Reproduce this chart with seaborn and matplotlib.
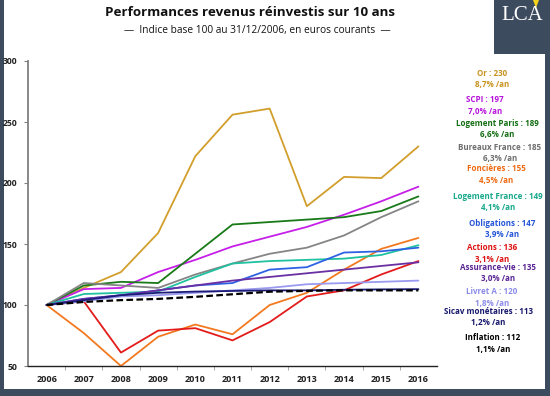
import matplotlib
matplotlib.use("Agg")
import matplotlib.pyplot as plt
import matplotlib.patches as mpatches
import seaborn as sns
import pandas as pd

# donnees
years = [2006, 2007, 2008, 2009, 2010, 2011, 2012, 2013, 2014, 2015, 2016]

or_vals = [100, 114, 127, 159, 222, 256, 261, 181, 205, 204, 230]
scpi = [100, 113, 114, 127, 137, 148, 156, 164, 174, 185, 197]
logement_paris = [100, 116, 119, 118, 142, 166, 168, 170, 172, 177, 189]
bureaux = [100, 118, 116, 114, 125, 134, 142, 147, 157, 172, 185]
foncieres = [100, 77, 50, 74, 84, 76, 100, 110, 129, 146, 155]
logement_france = [100, 109, 110, 111, 123, 134, 136, 137, 138, 141, 149]
obligations = [100, 105, 108, 112, 116, 118, 129, 131, 143, 144, 147]
actions = [100, 103, 61, 79, 81, 71, 86, 107, 112, 125, 136]
assurance_vie = [100, 105, 108, 112, 116, 120, 123, 126, 129, 132, 135]
livret_a = [100, 103, 107, 108, 110, 112, 114, 117, 118, 119, 120]
sicav = [100, 104, 108, 110, 111, 111.5, 112, 112, 112.5, 112.8, 113]
inflation = [100, 102.5, 104, 105, 106.7, 108.8, 110.9, 111.6, 112, 112, 112]

series = [
    ("Or", or_vals, "#D29E2C"),
    ("SCPI", scpi, "#C61FE8"),
    ("Logement Paris", logement_paris, "#187A18"),
    ("Bureaux France", bureaux, "#858585"),
    ("Foncières", foncieres, "#F2791F"),
    ("Logement France", logement_france, "#1FC1A0"),
    ("Obligations", obligations, "#2F62E3"),
    ("Actions", actions, "#E31B1B"),
    ("Assurance-vie", assurance_vie, "#6A2FA3"),
    ("Livret A", livret_a, "#9A9AF0"),
    ("Sicav monétaires", sicav, "#1C1C78"),
    ("Inflation", inflation, "#000000"),
]

# etiquettes a droite
labels = [
    ("Or : 230", "8,7% /an", "#C8921E"),
    ("SCPI : 197", "7,0% /an", "#B815DC"),
    ("Logement Paris : 189", "6,6% /an", "#146E14"),
    ("Bureaux France : 185", "6,3% /an", "#6E6E6E"),
    ("Foncières : 155", "4,5% /an", "#EE6A12"),
    ("Logement France : 149", "4,1% /an", "#17A88A"),
    ("Obligations : 147", "3,9% /an", "#2656D8"),
    ("Actions : 136", "3,1% /an", "#DD1212"),
    ("Assurance-vie : 135", "3,0% /an", "#5A2494"),
    ("Livret A : 120", "1,8% /an", "#8C8CE8"),
    ("Sicav monétaires : 113", "1,2% /an", "#18186C"),
    ("Inflation : 112", "1,1% /an", "#000000"),
]
label_x = [492, 485, 497, 500, 496, 498, 502, 492, 498, 492, 488, 493]
label_y = [73, 100, 123, 147, 169, 196, 223, 248, 267, 292, 311, 338]

sns.set_style("white")
plt.rcParams['font.family'] = ['Open Sans', 'DejaVu Sans']

W, H = 550, 396
fig = plt.figure(figsize=(5.5, 3.96), dpi=100)
fig.patch.set_facecolor("#3D4B5F")

# fond blanc
fig.patches.append(mpatches.Rectangle((4 / W, 1 - 389 / H), (545 - 4) / W, 389 / H,
                                      transform=fig.transFigure, facecolor="white",
                                      edgecolor="none", zorder=-10))
# logo
fig.patches.append(mpatches.Rectangle((494 / W, 1 - 54 / H), (W - 494) / W, 54 / H,
                                      transform=fig.transFigure, facecolor="#3D4B5F",
                                      edgecolor="none", zorder=-9))
fig.text(522 / W, 1 - 15 / H, "LCA", color="white", fontsize=15,
         family="Liberation Serif", ha="center", va="center")
fig.patches.append(mpatches.Polygon([(533 / W, 1), (539 / W, 1), (536 / W, 1 - 8 / H)],
                                    closed=True, transform=fig.transFigure,
                                    facecolor="#F2D21A", edgecolor="none", zorder=-8))

ax = fig.add_axes([28 / W, 30 / H, 409 / W, 305 / H])
ax.set_facecolor("none")

df = pd.DataFrame({"year": years})
for name, vals, col in series:
    df[name] = vals

for name, vals, col in series:
    if name == "Inflation":
        sns.lineplot(data=df, x="year", y=name, color=col, lw=1.6,
                     linestyle=(0, (3, 1.5)), ax=ax, zorder=5)
    else:
        sns.lineplot(data=df, x="year", y=name, color=col, lw=1.3, ax=ax)

ax.set_xlim(2005.5, 2016.5)
ax.set_ylim(50, 300)
ax.set_yticks([50, 100, 150, 200, 250, 300])
ax.set_xticks(years)
ax.set_xticks([y + 0.5 for y in years[:-1]], minor=True)
ax.set_xlabel("")
ax.set_ylabel("")

for s in ["top", "right"]:
    ax.spines[s].set_visible(False)
ax.spines["left"].set_color("#808080")
ax.spines["left"].set_linewidth(1.3)
ax.spines["bottom"].set_color("#222222")
ax.spines["bottom"].set_linewidth(1.0)

ax.tick_params(axis="y", which="major", left=True, length=3, color="#808080",
               labelsize=6.2, pad=4.5)
ax.tick_params(axis="x", which="major", bottom=False, length=0, labelsize=6.6, pad=6.5)
ax.tick_params(axis="x", which="minor", bottom=True, length=3, color="#999999",
               direction="out")
for t in ax.get_yticklabels() + ax.get_xticklabels():
    t.set_fontweight("bold")
    t.set_color("#222222")

# titres
fig.text(250 / W, 1 - 12 / H, "Performances revenus réinvestis sur 10 ans",
         fontsize=9.6, fontweight="bold", color="#111111", ha="center", va="center")
fig.text(257 / W, 1 - 30 / H, "—  Indice base 100 au 31/12/2006, en euros courants  —",
         fontsize=7.3, color="#111111", ha="center", va="center")

for (l1, l2, col), x, y in zip(labels, label_x, label_y):
    fig.text(x / W, 1 - y / H, l1, color=col, fontsize=5.8, fontweight="bold",
             ha="center", va="center")
    fig.text(x / W, 1 - (y + 11.5) / H, l2, color=col, fontsize=5.8, fontweight="bold",
             ha="center", va="center")

fig.savefig("out.png", dpi=100, facecolor=fig.get_facecolor())
